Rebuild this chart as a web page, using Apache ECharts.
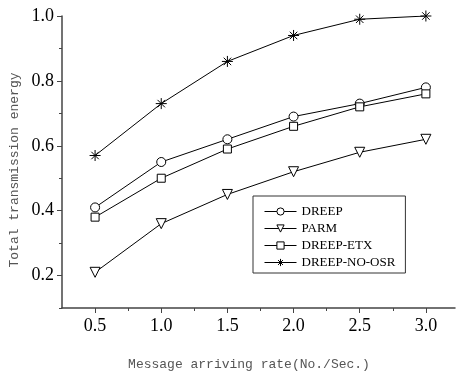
<!DOCTYPE html>
<html>
<head>
<meta charset="utf-8">
<script src="https://cdn.jsdelivr.net/npm/echarts@6/dist/echarts.min.js"></script>
<style>html,body{margin:0;padding:0;background:#fff}#c{width:456px;height:373px}</style>
</head>
<body>
<div id="c"></div>
<script>
var xValues = [0.5, 1.0, 1.5, 2.0, 2.5, 3.0];
var seriesNames = ['DREEP', 'PARM', 'DREEP-ETX', 'DREEP-NO-OSR'];
var dreep = [0.41, 0.55, 0.62, 0.69, 0.73, 0.78];
var parm = [0.21, 0.36, 0.45, 0.52, 0.58, 0.62];
var dreepEtx = [0.38, 0.50, 0.59, 0.66, 0.72, 0.76];
var dreepNoOsr = [0.57, 0.73, 0.86, 0.94, 0.99, 1.00];
var xMajorTicks = [0.5, 1.0, 1.5, 2.0, 2.5, 3.0];
var xMinorTicks = [0.75, 1.25, 1.75, 2.25, 2.75];
var yMajorTicks = [0.2, 0.4, 0.6, 0.8, 1.0];
var yMinorTicks = [0.1, 0.3, 0.5, 0.7, 0.9];
var xTitle = 'Message arriving rate(No./Sec.)';
var yTitle = 'Total transmission energy';

function pairs(vals) { return xValues.map(function (x, i) { return [x, vals[i]]; }); }
var star = 'path://M0,5L10,5M5,0L5,10M1.6,1.6L8.4,8.4M8.4,1.6L1.6,8.4';
var symbols = ['circle', 'triangle', 'rect', star];
var symbolFills = ['#fff', '#fff', '#fff', 'none'];
var axisColor = '#444';
var serif = '"Liberation Serif", "Times New Roman", serif';
var mono = '"Liberation Mono", "DejaVu Sans Mono", monospace';

function mkSeries(i, vals, size, rotate) {
  return {
    name: seriesNames[i], type: 'line', data: pairs(vals),
    symbol: symbols[i], symbolSize: size, symbolRotate: rotate || 0,
    showAllSymbol: true,
    lineStyle: { color: '#000', width: 1 },
    itemStyle: { color: symbolFills[i], borderColor: '#000', borderWidth: 1 },
    emphasis: { disabled: true },
    z: 5
  };
}

var chart = echarts.init(document.getElementById('c'), null, { renderer: 'canvas' });
var xBase = { type: 'value', min: 0.25, max: 3.22, gridIndex: 0, position: 'bottom', splitLine: { show: false } };
var yBase = { type: 'value', min: 0.1, max: 1.0, gridIndex: 0, position: 'left', splitLine: { show: false } };
chart.setOption({
  animation: false,
  backgroundColor: '#fff',
  grid: { left: 62, right: 1, top: 16, bottom: 65 },
  xAxis: [
    Object.assign({}, xBase, {
      axisLine: { show: true, lineStyle: { color: axisColor, width: 1.5 } },
      axisTick: { show: true, customValues: xMajorTicks, length: 5, lineStyle: { color: axisColor, width: 1 } },
      axisLabel: { show: true, customValues: xMajorTicks, margin: 9, color: '#000', fontFamily: serif, fontSize: 18,
        formatter: function (v) { return v.toFixed(1); } }
    }),
    Object.assign({}, xBase, {
      axisLine: { show: false },
      axisTick: { show: true, customValues: xMinorTicks, length: 3, lineStyle: { color: axisColor, width: 1 } },
      axisLabel: { show: false }
    })
  ],
  yAxis: [
    Object.assign({}, yBase, {
      axisLine: { show: true, lineStyle: { color: axisColor, width: 1.5 } },
      axisTick: { show: true, customValues: yMajorTicks, length: 5, lineStyle: { color: axisColor, width: 1 } },
      axisLabel: { show: true, customValues: yMajorTicks, margin: 8, color: '#000', fontFamily: serif, fontSize: 18,
        formatter: function (v) { return v.toFixed(1); } }
    }),
    Object.assign({}, yBase, {
      axisLine: { show: false },
      axisTick: { show: true, customValues: yMinorTicks, length: 3, lineStyle: { color: axisColor, width: 1 } },
      axisLabel: { show: false }
    })
  ],
  legend: {
    left: 253, top: 196, orient: 'vertical',
    data: seriesNames.map(function (n, i) {
      return {
        name: n,
        itemStyle: { color: symbolFills[i], borderColor: '#000', borderWidth: 1 },
        lineStyle: { color: '#000', width: 1 }
      };
    }),
    itemWidth: 32, itemHeight: 9, itemGap: 4,
    padding: [9, 10, 4, 11],
    borderColor: '#333', borderWidth: 1,
    textStyle: { fontFamily: serif, fontSize: 13, color: '#000' }
  },
  graphic: [
    { type: 'text', x: 249, y: 358, style: { text: xTitle, font: '13px ' + mono, fill: '#555', textAlign: 'center' } },
    { type: 'text', x: 15, y: 170, rotation: Math.PI / 2, style: { text: yTitle, font: '13px ' + mono, fill: '#555', textAlign: 'center', textVerticalAlign: 'middle' } }
  ],
  series: [
    mkSeries(0, dreep, 9, 0),
    mkSeries(1, parm, 10, 180),
    mkSeries(2, dreepEtx, 8, 0),
    mkSeries(3, dreepNoOsr, 11, 0)
  ]
});
</script>
</body>
</html>
